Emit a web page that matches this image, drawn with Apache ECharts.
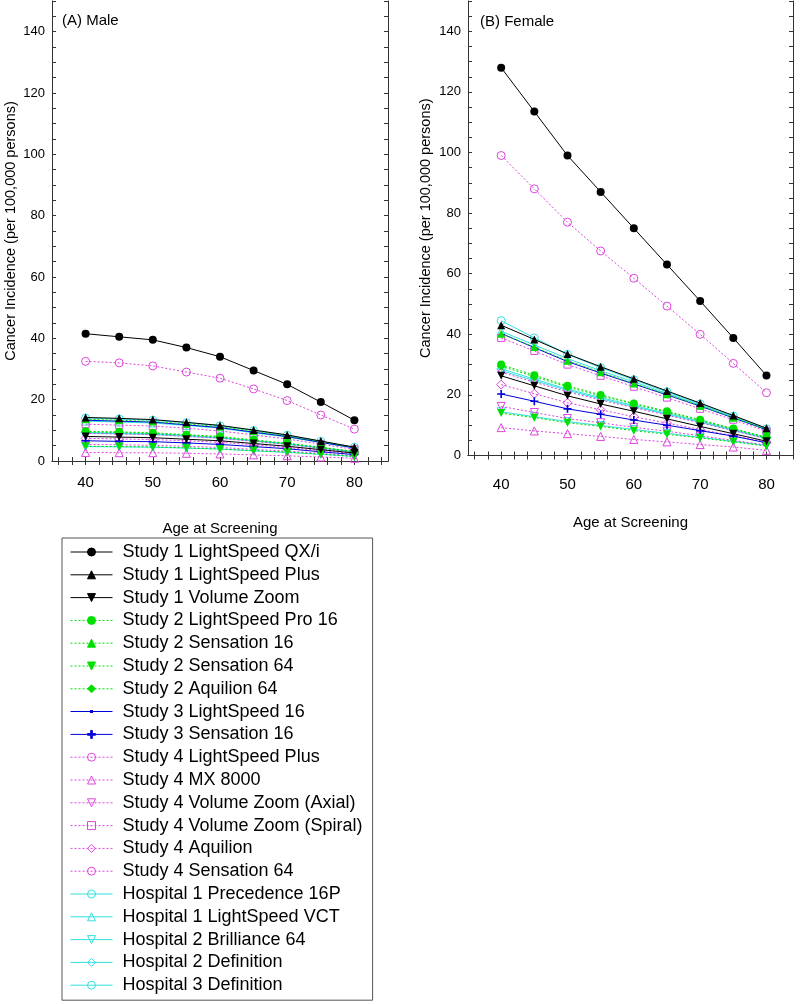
<!DOCTYPE html>
<html><head><meta charset="utf-8">
<script src="https://cdn.jsdelivr.net/npm/echarts@6/dist/echarts.min.js"></script>
<style>html,body{margin:0;padding:0;background:#fff}#c{width:800px;height:1004px}</style>
</head><body><div id="c"></div>
<script>
// ---------- data ----------
const ages = [40, 45, 50, 55, 60, 65, 70, 75, 80];
const xTickLabels = [40, 50, 60, 70, 80];
const xTickMarks = [36,38,40,42,44,46,48,50,52,54,56,58,60,62,64,66,68,70,72,74,76,78,80,82,84];
const yTickLabels = [0, 20, 40, 60, 80, 100, 120, 140];
const yTickMarks = [0,5,10,15,20,25,30,35,40,45,50,55,60,65,70,75,80,85,90,95,100,105,110,115,120,125,130,135,140,145,150];

const names = [
  'Study 1 LightSpeed QX/i', 'Study 1 LightSpeed Plus', 'Study 1 Volume Zoom',
  'Study 2 LightSpeed Pro 16', 'Study 2 Sensation 16', 'Study 2 Sensation 64', 'Study 2 Aquilion 64',
  'Study 3 LightSpeed 16', 'Study 3 Sensation 16',
  'Study 4 LightSpeed Plus', 'Study 4 MX 8000', 'Study 4 Volume Zoom (Axial)', 'Study 4 Volume Zoom (Spiral)',
  'Study 4 Aquilion', 'Study 4 Sensation 64',
  'Hospital 1 Precedence 16P', 'Hospital 1 LightSpeed VCT', 'Hospital 2 Brilliance 64',
  'Hospital 2 Definition', 'Hospital 3 Definition'
];

// Male (per 100,000) at ages 40..80
const maleS1QXi      = [41.5, 40.5, 39.5, 37.0, 34.0, 29.5, 25.0, 19.2, 13.3];
const maleS1LSPlus   = [14.2, 13.9, 13.5, 12.6, 11.6, 10.1, 8.5, 6.5, 4.5];
const maleS1VZ       = [8.0, 7.8, 7.6, 7.1, 6.6, 5.7, 4.8, 3.7, 2.6];
const maleS2LSPro16  = [9.7, 9.5, 9.2, 8.6, 8.0, 6.9, 5.8, 4.5, 3.1];
const maleS2Sens16   = [13.6, 13.3, 12.9, 12.1, 11.2, 9.7, 8.2, 6.3, 4.4];
const maleS2Sens64   = [4.8, 4.7, 4.6, 4.3, 3.9, 3.4, 2.9, 2.2, 1.5];
const maleS2Aq64     = [9.5, 9.3, 9.0, 8.5, 7.8, 6.7, 5.7, 4.4, 3.0];
const maleS3LS16     = [13.3, 13.0, 12.7, 11.8, 10.9, 9.4, 8.0, 6.1, 4.3];
const maleS3Sens16   = [6.6, 6.4, 6.3, 5.9, 5.4, 4.7, 4.0, 3.0, 2.1];
const maleS4LSPlus   = [32.5, 32.0, 31.0, 29.0, 27.0, 23.5, 19.7, 15.0, 10.4];
const maleS4MX8000   = [2.8, 2.7, 2.7, 2.5, 2.3, 2.0, 1.7, 1.3, 0.9];
const maleS4VZAx     = [5.4, 5.3, 5.1, 4.8, 4.4, 3.8, 3.2, 2.5, 1.7];
const maleS4VZSp     = [12.0, 11.7, 11.4, 10.7, 9.8, 8.5, 7.2, 5.5, 3.8];
const maleS4Aq       = [7.4, 7.2, 7.0, 6.6, 6.1, 5.3, 4.4, 3.4, 2.4];
const maleS4Sens64   = [9.0, 8.8, 8.6, 8.0, 7.4, 6.4, 5.4, 4.1, 2.9];
const maleH1Prec     = [14.0, 13.7, 13.3, 12.5, 11.5, 9.9, 8.4, 6.4, 4.5];
const maleH1VCT      = [13.0, 12.7, 12.4, 11.6, 10.7, 9.2, 7.8, 6.0, 4.2];
const maleH2Bril64   = [4.7, 4.6, 4.5, 4.2, 3.9, 3.3, 2.8, 2.2, 1.5];
const maleH2Def      = [9.3, 9.1, 8.9, 8.3, 7.6, 6.6, 5.6, 4.3, 3.0];
const maleH3Def      = [9.1, 8.9, 8.7, 8.1, 7.5, 6.5, 5.5, 4.2, 2.9];

// Female (per 100,000) at ages 40..80
const femS1QXi      = [128, 113.5, 99, 87, 75, 63, 51, 38.8, 26.4];
const femS1LSPlus   = [43, 38.3, 33.5, 29.3, 25.3, 21.3, 17.3, 13.2, 9.0];
const femS1VZ       = [26.3, 23.0, 19.7, 17.0, 14.6, 12.1, 9.6, 7.2, 4.7];
const femS2LSPro16  = [30.0, 26.5, 23.0, 20.0, 17.2, 14.6, 11.8, 8.9, 6.1];
const femS2Sens16   = [40.2, 35.8, 31.3, 27.5, 23.8, 20.2, 16.4, 12.5, 8.5];
const femS2Sens64   = [14.0, 12.5, 10.8, 9.6, 8.2, 7.0, 5.8, 4.5, 3.1];
const femS2Aq64     = [29.5, 26.0, 22.6, 19.7, 17.0, 14.3, 11.6, 8.7, 5.9];
const femS3LS16     = [40.3, 35.6, 31.0, 27.2, 23.6, 20.0, 16.3, 12.4, 8.5];
const femS3Sens16   = [20.3, 17.9, 15.4, 13.6, 11.7, 10.0, 8.2, 6.4, 4.2];
const femS4LSPlus   = [99, 88, 77, 67.5, 58.5, 49.3, 40, 30.4, 20.7];
const femS4MX8000   = [9.2, 8.1, 7.2, 6.3, 5.3, 4.5, 3.6, 2.8, 1.7];
const femS4VZAx     = [16.2, 14.2, 12.2, 10.8, 9.3, 8.0, 6.5, 5.0, 3.4];
const femS4VZSp     = [38.8, 34.5, 30.0, 26.3, 22.7, 19.1, 15.4, 11.8, 8.0];
const femS4Aq       = [23.4, 20.4, 17.4, 15.1, 12.8, 10.7, 8.6, 6.5, 4.4];
const femS4Sens64   = [27.5, 24.2, 21.0, 18.3, 15.8, 13.3, 10.8, 8.2, 5.5];
const femH1Prec     = [44.5, 38.8, 33.4, 29.0, 25.0, 21.0, 17.0, 13.0, 8.8];
const femH1VCT      = [41.0, 36.5, 32.0, 28.0, 24.3, 20.5, 16.7, 12.8, 8.7];
const femH2Bril64   = [14.4, 12.8, 11.2, 9.9, 8.6, 7.3, 6.0, 4.7, 3.3];
const femH2Def      = [28.6, 25.2, 21.9, 19.1, 16.5, 13.9, 11.3, 8.6, 5.8];
const femH3Def      = [28.0, 24.7, 21.5, 18.7, 16.1, 13.6, 11.0, 8.3, 5.6];

const maleSets = [maleS1QXi, maleS1LSPlus, maleS1VZ, maleS2LSPro16, maleS2Sens16, maleS2Sens64, maleS2Aq64,
  maleS3LS16, maleS3Sens16, maleS4LSPlus, maleS4MX8000, maleS4VZAx, maleS4VZSp, maleS4Aq, maleS4Sens64,
  maleH1Prec, maleH1VCT, maleH2Bril64, maleH2Def, maleH3Def];
const femSets = [femS1QXi, femS1LSPlus, femS1VZ, femS2LSPro16, femS2Sens16, femS2Sens64, femS2Aq64,
  femS3LS16, femS3Sens16, femS4LSPlus, femS4MX8000, femS4VZAx, femS4VZSp, femS4Aq, femS4Sens64,
  femH1Prec, femH1VCT, femH2Bril64, femH2Def, femH3Def];

// ---------- styles ----------
const BLACK = '#000000', GREEN = '#00e000', BLUE = '#0000d8', MAG = '#dd44dd', CYAN = '#33e0e0';
const PLUS = 'path://M4,0H6V4H10V6H6V10H4V6H0V4H4Z';
const DOT = [2, 2];
const styles = [
  {c: BLACK, t: 'solid', s: 'circle', z: 8, f: true},
  {c: BLACK, t: 'solid', s: 'triangle', z: 8, f: true},
  {c: BLACK, t: 'solid', s: 'triangle', r: 180, z: 8, f: true},
  {c: GREEN, t: DOT, s: 'circle', z: 8, f: true},
  {c: GREEN, t: DOT, s: 'triangle', z: 8, f: true},
  {c: GREEN, t: DOT, s: 'triangle', r: 180, z: 8, f: true},
  {c: GREEN, t: DOT, s: 'diamond', z: 9, f: true},
  {c: BLUE, t: 'solid', s: 'circle', z: 3, f: true},
  {c: BLUE, t: 'solid', s: PLUS, z: 8, f: true},
  {c: MAG, t: DOT, s: 'circle', z: 8, f: false},
  {c: MAG, t: DOT, s: 'triangle', z: 8, f: false},
  {c: MAG, t: DOT, s: 'triangle', r: 180, z: 8, f: false},
  {c: MAG, t: DOT, s: 'rect', z: 7, f: false},
  {c: MAG, t: DOT, s: 'diamond', z: 9, f: false},
  {c: MAG, t: DOT, s: 'circle', z: 6, f: false},
  {c: CYAN, t: 'solid', s: 'circle', z: 8, f: false},
  {c: CYAN, t: 'solid', s: 'triangle', z: 8, f: false},
  {c: CYAN, t: 'solid', s: 'triangle', r: 180, z: 8, f: false},
  {c: CYAN, t: 'solid', s: 'diamond', z: 9, f: false},
  {c: CYAN, t: 'solid', s: 'circle', z: 7, f: false}
];

const FONT = 'Liberation Sans, Arial, sans-serif';
const AX = '#333';

function xAxes(g, max, labelMargin, nameGap) {
  return [
    {gridIndex: g, type: 'value', min: 35, max: max, position: 'bottom',
     axisLine: {lineStyle: {color: AX, width: 1}},
     axisTick: {inside: true, length: 4, customValues: xTickMarks, lineStyle: {color: AX}},
     axisLabel: {customValues: xTickLabels, fontSize: 15, color: '#000', fontFamily: FONT, margin: labelMargin},
     splitLine: {show: false},
     name: 'Age at Screening', nameLocation: 'middle', nameGap: nameGap,
     nameTextStyle: {fontSize: 15, color: '#000', fontFamily: FONT}},
    {gridIndex: g, type: 'value', min: 35, max: max, position: 'top',
     axisLine: {lineStyle: {color: AX, width: 1}},
     axisTick: {inside: true, length: 4, customValues: xTickMarks, lineStyle: {color: AX}},
     axisLabel: {show: false}, splitLine: {show: false}}
  ];
}
function yAxes(g, nameGap) {
  return [
    {gridIndex: g, type: 'value', min: 0, max: 150, position: 'left',
     axisLine: {lineStyle: {color: AX, width: 1}},
     axisTick: {inside: true, length: 4, customValues: yTickMarks, lineStyle: {color: AX}},
     axisLabel: {customValues: yTickLabels, fontSize: 13, color: '#000', fontFamily: FONT, margin: 7},
     splitLine: {show: false},
     name: 'Cancer Incidence (per 100,000 persons)', nameLocation: 'middle', nameGap: nameGap,
     nameTextStyle: {fontSize: 14.5, color: '#000', fontFamily: FONT}},
    {gridIndex: g, type: 'value', min: 0, max: 150, position: 'right',
     axisLine: {lineStyle: {color: AX, width: 1}},
     axisTick: {inside: true, length: 4, customValues: yTickMarks, lineStyle: {color: AX}},
     axisLabel: {show: false}, splitLine: {show: false}}
  ];
}

const series = [];
[maleSets, femSets].forEach((sets, g) => {
  sets.forEach((arr, i) => {
    const st = styles[i];
    series.push({
      name: names[i], type: 'line', xAxisIndex: g * 2, yAxisIndex: g * 2,
      data: ages.map((a, k) => [a, arr[k]]),
      symbol: st.s, symbolSize: st.z, symbolRotate: st.r || 0,
      showAllSymbol: true,
      lineStyle: {color: st.c, width: 1, type: st.t},
      itemStyle: {color: st.f ? st.c : 'rgba(255,255,255,0)', borderColor: st.c, borderWidth: st.f ? 0 : 1},
      emphasis: {disabled: true}, silent: true,
      z: 20 - i
    });
  });
});

// legend entries: the tiny-dot series gets a line-with-dot icon
const legendData = names.map((n, i) => i === 7
  ? {name: n, icon: 'path://M0,0h0.01v10h-0.01z M0,4.5H42V5.5H0Z M19.5,3.5H22.5V6.5H19.5Z',
     itemStyle: {borderWidth: 0, borderColor: 'rgba(0,0,0,0)'}}
  : {name: n});

const chart = echarts.init(document.getElementById('c'), null, {renderer: 'canvas'});
chart.setOption({
  animation: false,
  backgroundColor: '#fff',
  title: [
    {text: '(A) Male', left: 62, top: 13, padding: 0, textStyle: {fontSize: 15, fontWeight: 'normal', color: '#000', fontFamily: FONT}},
    {text: '(B) Female', left: 480, top: 14, padding: 0, textStyle: {fontSize: 15, fontWeight: 'normal', color: '#000', fontFamily: FONT}}
  ],
  grid: [
    {left: 52, top: 1, width: 336, height: 460},
    {left: 468, top: 1, width: 325, height: 454.5}
  ],
  xAxis: xAxes(0, 85, 14, 60).concat(xAxes(1, 84, 22, 60)),
  yAxis: yAxes(0, 34).concat(yAxes(1, 35)),
  legend: {
    orient: 'vertical', left: 62, top: 538,
    itemWidth: 42, itemHeight: 10, itemGap: 4.8,
    padding: [5, 10, 6, 8],
    borderColor: '#555', borderWidth: 1,
    selectedMode: false,
    lineStyle: {width: 1},
    itemStyle: {borderWidth: 1},
    textStyle: {fontSize: 18, color: '#000', fontFamily: FONT, lineHeight: 18, padding: [0, 0, 0, 5]},
    data: legendData
  },
  series: series
});
</script></body></html>
